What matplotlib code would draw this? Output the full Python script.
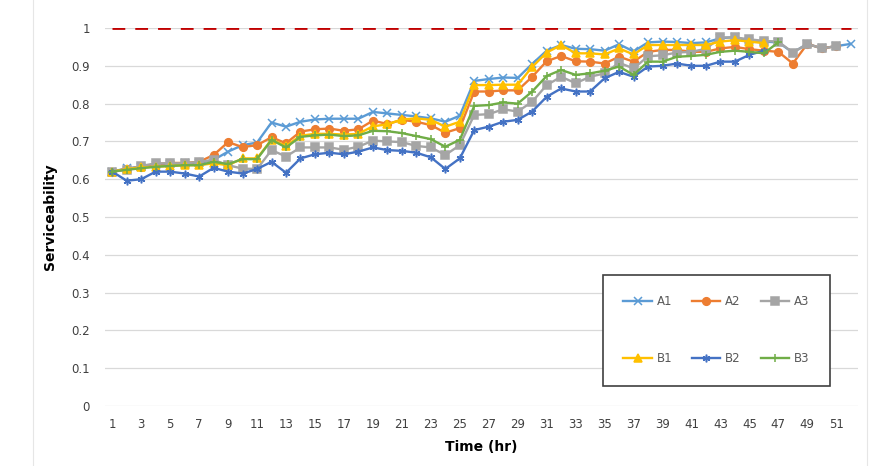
import matplotlib
matplotlib.use("Agg")
import matplotlib.pyplot as plt
from matplotlib.patches import Rectangle

hours = list(range(1, 53))

a1 = [0.620, 0.629, 0.633, 0.637, 0.640, 0.642, 0.643, 0.651, 0.673, 0.690,
      0.697, 0.750, 0.739, 0.752, 0.758, 0.760, 0.760, 0.760, 0.778, 0.774,
      0.770, 0.766, 0.761, 0.752, 0.768, 0.860, 0.865, 0.869, 0.868, 0.905,
      0.940, 0.955, 0.945, 0.944, 0.940, 0.957, 0.938, 0.962, 0.964, 0.963,
      0.960, 0.962, 0.973, 0.976, 0.966, 0.964, 0.962, 0.935, 0.958, 0.946,
      0.952, 0.958]
a2 = [0.620, 0.627, 0.633, 0.640, 0.643, 0.643, 0.646, 0.664, 0.698, 0.685,
      0.690, 0.711, 0.695, 0.726, 0.732, 0.734, 0.728, 0.732, 0.755, 0.746,
      0.757, 0.752, 0.743, 0.723, 0.735, 0.832, 0.832, 0.835, 0.835, 0.871,
      0.912, 0.926, 0.912, 0.911, 0.906, 0.924, 0.911, 0.937, 0.942, 0.942,
      0.937, 0.937, 0.946, 0.950, 0.944, 0.940, 0.937, 0.906, 0.958, 0.946,
      0.952]
a3 = [0.620, 0.625, 0.635, 0.642, 0.642, 0.642, 0.646, 0.651, 0.637, 0.628,
      0.627, 0.677, 0.660, 0.684, 0.684, 0.684, 0.678, 0.686, 0.702, 0.700,
      0.698, 0.688, 0.684, 0.664, 0.690, 0.770, 0.772, 0.785, 0.779, 0.805,
      0.849, 0.871, 0.854, 0.871, 0.880, 0.908, 0.893, 0.925, 0.928, 0.935,
      0.937, 0.945, 0.975, 0.975, 0.970, 0.966, 0.964, 0.935, 0.958, 0.946,
      0.952]
b1 = [0.620, 0.627, 0.631, 0.633, 0.635, 0.637, 0.637, 0.642, 0.637, 0.655,
      0.655, 0.705, 0.688, 0.715, 0.720, 0.720, 0.718, 0.720, 0.740, 0.745,
      0.758, 0.761, 0.757, 0.739, 0.752, 0.849, 0.849, 0.850, 0.850, 0.897,
      0.935, 0.955, 0.933, 0.933, 0.930, 0.946, 0.930, 0.955, 0.955, 0.955,
      0.955, 0.955, 0.964, 0.968, 0.964, 0.960]
b2 = [0.620, 0.596, 0.600, 0.620, 0.620, 0.615, 0.607, 0.630, 0.620, 0.615,
      0.627, 0.646, 0.617, 0.655, 0.666, 0.670, 0.666, 0.673, 0.684, 0.677,
      0.675, 0.670, 0.658, 0.627, 0.655, 0.730, 0.739, 0.752, 0.757, 0.779,
      0.818, 0.840, 0.832, 0.832, 0.867, 0.884, 0.871, 0.898, 0.900, 0.906,
      0.900, 0.900, 0.911, 0.911, 0.929, 0.940]
b3 = [0.620, 0.625, 0.629, 0.633, 0.635, 0.637, 0.637, 0.646, 0.640, 0.653,
      0.653, 0.704, 0.684, 0.712, 0.716, 0.718, 0.714, 0.716, 0.728, 0.727,
      0.722, 0.714, 0.706, 0.686, 0.704, 0.794, 0.796, 0.803, 0.800, 0.832,
      0.873, 0.889, 0.876, 0.880, 0.887, 0.898, 0.876, 0.911, 0.911, 0.924,
      0.926, 0.929, 0.937, 0.940, 0.937, 0.933, 0.962]
target = [1.0] * len(hours)

series = [
    ("A1", a1, "#5B9BD5", "x"),
    ("A2", a2, "#ED7D31", "o"),
    ("A3", a3, "#A5A5A5", "s"),
    ("B1", b1, "#FFC000", "^"),
    ("B2", b2, "#4472C4", (6, 2, 0)),
    ("B3", b3, "#70AD47", "+"),
]

plt.rcParams['font.family'] = ['DejaVu Sans']

fig = plt.figure(figsize=(8.71, 4.66), dpi=100)
ax = fig.add_axes([105 / 871, 1 - 406 / 466, 753 / 871, 378 / 466])

# light chart-area border
fig.patches.append(Rectangle((33 / 871, -0.05), (867 - 33) / 871, 1.1,
                             transform=fig.transFigure, fill=False,
                             edgecolor="#E6E6E6", linewidth=0.8, zorder=0))

lines = []
for name, vals, color, marker in series:
    ln, = ax.plot(hours[:len(vals)], vals, color=color, linewidth=1.7,
                  marker=marker, markersize=5.5, markeredgewidth=1.1,
                  markerfacecolor=color, markeredgecolor=color, label=name,
                  zorder=3)
    lines.append(ln)

ax.plot(hours, target, color="#C00000", linewidth=2.0, dashes=(4.6, 3.6),
        zorder=4)

ax.set_xlim(0.5, 52.5)
ax.set_ylim(0, 1)
ax.set_yticks([i / 10 for i in range(11)])
ax.set_yticklabels(["0"] + [f"0.{i}" for i in range(1, 10)] + ["1"])
ax.set_xticks(hours[::2])
ax.set_xticklabels([str(h) for h in hours[::2]])
ax.tick_params(axis="both", length=0, labelsize=8.5, labelcolor="#404040")
ax.tick_params(axis="y", pad=11)
ax.tick_params(axis="x", pad=9)
ax.grid(axis="y", color="#D9D9D9", linewidth=0.9)
ax.set_axisbelow(True)
for s in ax.spines.values():
    s.set_visible(False)

ax.set_xlabel("Time (hr)", fontsize=10, fontweight="bold", labelpad=6)
ax.set_ylabel("Serviceability", fontsize=10, fontweight="bold", labelpad=10)

# legend filled column by column, so interleave to get A row over B row
order = [0, 3, 1, 4, 2, 5]
leg = ax.legend([lines[i] for i in order], [series[i][0] for i in order],
                loc="upper left", bbox_to_anchor=(0.661, 0.347), ncol=3,
                fontsize=8.5, frameon=True, fancybox=False, framealpha=1,
                edgecolor="#404040", handlelength=2.4, handletextpad=0.4,
                columnspacing=1.7, labelspacing=3.7, borderpad=1.75,
                borderaxespad=0)
leg.get_frame().set_linewidth(1.2)
for t in leg.get_texts():
    t.set_color("#595959")

fig.savefig("out.png", dpi=100)
